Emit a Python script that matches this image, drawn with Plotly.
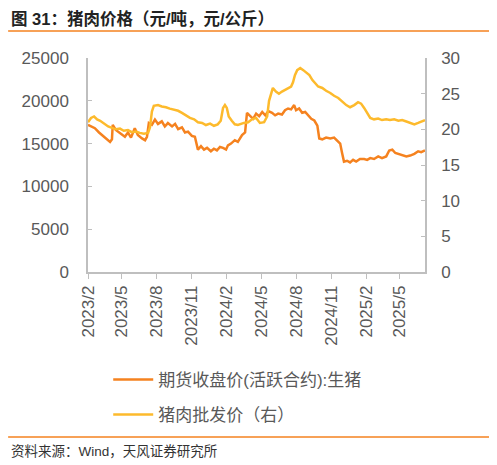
import plotly.graph_objects as go

# 期货收盘价(活跃合约):生猪, 元/吨
fut_dates = ['2023-02-01', '2023-02-11', '2023-02-19', '2023-03-02', '2023-03-10', '2023-03-21',
             '2023-03-31', '2023-04-05', '2023-04-07', '2023-04-15', '2023-04-21', '2023-04-29',
             '2023-05-09', '2023-05-17', '2023-05-25', '2023-06-04', '2023-06-12', '2023-06-23',
             '2023-07-01', '2023-07-06', '2023-07-11', '2023-07-19', '2023-07-27', '2023-08-04',
             '2023-08-14', '2023-08-22', '2023-08-30', '2023-09-10', '2023-09-18', '2023-09-26',
             '2023-10-06', '2023-10-14', '2023-10-22', '2023-11-01', '2023-11-09', '2023-11-17',
             '2023-11-25', '2023-12-03', '2023-12-11', '2023-12-21', '2023-12-29', '2024-01-06',
             '2024-01-14', '2024-01-22', '2024-01-30', '2024-02-04', '2024-02-12', '2024-02-22',
             '2024-03-01', '2024-03-12', '2024-03-20', '2024-03-25', '2024-04-02', '2024-04-10',
             '2024-04-18', '2024-04-26', '2024-05-04', '2024-05-12', '2024-05-20', '2024-05-30',
             '2024-06-07', '2024-06-15', '2024-06-25', '2024-07-03', '2024-07-11', '2024-07-19',
             '2024-07-27', '2024-08-01', '2024-08-09', '2024-08-17', '2024-08-25', '2024-09-02',
             '2024-09-10', '2024-09-18', '2024-09-26', '2024-10-01', '2024-10-09', '2024-10-19',
             '2024-10-30', '2024-11-09', '2024-11-17', '2024-11-25', '2024-11-30', '2024-12-05',
             '2024-12-13', '2024-12-21', '2024-12-29', '2025-01-06', '2025-01-16', '2025-01-27',
             '2025-02-04', '2025-02-12', '2025-02-22', '2025-03-05', '2025-03-15', '2025-03-26',
             '2025-04-03', '2025-04-11', '2025-04-19', '2025-04-27', '2025-05-07', '2025-05-18',
             '2025-05-28', '2025-06-08', '2025-06-18', '2025-06-26', '2025-07-06']
fut_price = [17200, 17000, 16800, 16300, 16000, 15600,
             15200, 15500, 17200, 16600, 16400, 16200,
             15800, 16300, 15700, 16800, 16000, 15600,
             15400, 15800, 17400, 17200, 17800, 17300,
             17600, 17000, 17400, 17000, 17300, 16700,
             16900, 16300, 16400, 15900, 15800, 14300,
             14700, 14300, 14500, 14100, 14400, 14200,
             14600, 14500, 14300, 14800, 15000, 15400,
             15200, 16000, 16300, 18600, 18300, 17900,
             18500, 18200, 18700, 18300, 18800, 18600,
             18300, 18500, 18400, 18900, 19100, 19000,
             19500, 18900, 19100, 18600, 18700, 18300,
             17900, 17700, 17100, 15600, 15500, 15700,
             15600, 15700, 15400, 15000, 13900, 12900,
             13000, 12800, 13100, 12900, 13200, 13200,
             13100, 13300, 13200, 13500, 13300, 13500,
             14200, 14300, 13900, 13800, 13700, 13500,
             13600, 13800, 14100, 14000, 14200]

# 猪肉批发价（右）, 元/公斤
pork_dates = ['2023-02-01', '2023-02-09', '2023-02-17', '2023-02-25', '2023-03-05', '2023-03-15',
              '2023-03-26', '2023-04-05', '2023-04-15', '2023-04-26', '2023-05-06', '2023-05-17',
              '2023-05-27', '2023-06-07', '2023-06-17', '2023-06-28', '2023-07-09', '2023-07-14',
              '2023-07-19', '2023-07-24', '2023-08-04', '2023-08-14', '2023-08-25', '2023-09-04',
              '2023-09-15', '2023-09-26', '2023-10-06', '2023-10-16', '2023-10-27', '2023-11-07',
              '2023-11-17', '2023-11-28', '2023-12-08', '2023-12-19', '2023-12-29', '2024-01-08',
              '2024-01-16', '2024-01-22', '2024-01-27', '2024-02-01', '2024-02-06', '2024-02-14',
              '2024-02-22', '2024-03-01', '2024-03-09', '2024-03-17', '2024-03-28', '2024-04-07',
              '2024-04-18', '2024-04-28', '2024-05-09', '2024-05-17', '2024-05-22', '2024-05-27',
              '2024-06-01', '2024-06-09', '2024-06-17', '2024-06-25', '2024-07-03', '2024-07-11',
              '2024-07-19', '2024-07-24', '2024-07-29', '2024-08-04', '2024-08-12', '2024-08-20',
              '2024-08-28', '2024-09-05', '2024-09-13', '2024-09-21', '2024-09-28', '2024-10-09',
              '2024-10-19', '2024-10-30', '2024-11-09', '2024-11-20', '2024-11-30', '2024-12-11',
              '2024-12-21', '2025-01-01', '2025-01-11', '2025-01-19', '2025-01-27', '2025-02-04',
              '2025-02-12', '2025-02-22', '2025-03-05', '2025-03-15', '2025-03-26', '2025-04-05',
              '2025-04-16', '2025-04-27', '2025-05-07', '2025-05-18', '2025-05-28', '2025-06-08',
              '2025-06-18', '2025-06-29', '2025-07-06']
pork_price = [21.0, 21.6, 21.8, 21.4, 21.2, 20.8,
              20.4, 20.2, 20.0, 20.1, 19.8, 19.9,
              19.6, 19.7, 19.5, 19.4, 19.5, 20.3,
              22.5, 23.3, 23.4, 23.2, 23.1, 22.9,
              22.8, 22.6, 22.3, 22.0, 21.6, 21.4,
              21.0, 20.9, 20.6, 20.8, 20.5, 20.7,
              21.2, 23.0, 23.4, 23.0, 21.8, 21.2,
              20.7, 20.6, 20.8, 20.9, 21.0, 21.4,
              21.6, 20.9, 21.0, 21.8, 24.0, 25.1,
              25.8, 25.3, 25.0, 25.3, 25.5, 25.8,
              26.0, 26.6, 27.6, 28.3, 28.6, 28.3,
              28.0, 27.6, 26.9, 26.4, 26.0, 25.8,
              25.4, 25.1, 24.7, 24.4, 23.9, 23.4,
              23.1, 23.4, 23.8, 23.6, 23.0, 22.2,
              21.6, 21.4, 21.5, 21.3, 21.4, 21.3,
              21.4, 21.2, 21.3, 21.1, 20.9, 20.7,
              20.9, 21.2, 21.3]

tick_dates = ['2023-02-01', '2023-05-01', '2023-08-01', '2023-11-01', '2024-02-01',
              '2024-05-01', '2024-08-01', '2024-11-01', '2025-02-01', '2025-05-01']
tick_labels = ['2023/2', '2023/5', '2023/8', '2023/11', '2024/2',
               '2024/5', '2024/8', '2024/11', '2025/2', '2025/5']

orange = '#F5821F'
yellow = '#FDBA2C'
grey_txt = '#595959'
grey_ax = '#BFBFBF'
font_main = 'Liberation Sans, Arial, Noto Sans CJK SC'

fig = go.Figure()
fig.add_trace(go.Scatter(x=fut_dates, y=fut_price, name='期货收盘价(活跃合约):生猪',
                         mode='lines', line=dict(color=orange, width=2.5),
                         legendgroup='a'))
fig.add_trace(go.Scatter(x=pork_dates, y=pork_price, name='猪肉批发价（右）',
                         mode='lines', line=dict(color=yellow, width=2.5),
                         yaxis='y2', legendgroup='b'))

# page has an 8px body margin, so the figure is 8px smaller than the window
fig.update_layout(
    width=489, height=457,
    margin=dict(l=80, r=72, t=50, b=193),
    paper_bgcolor='white', plot_bgcolor='white',
    font=dict(family=font_main, color=grey_txt, size=17),
    xaxis=dict(type='date', range=['2023-02-01', '2025-07-06'],
               tickvals=tick_dates, ticktext=tick_labels, tickangle=-90,
               showgrid=False, zeroline=False, showline=True, linecolor=grey_ax, linewidth=1.5,
               ticks='outside', ticklen=5, tickcolor=grey_ax, tickfont=dict(size=17)),
    yaxis=dict(range=[0, 25000], dtick=5000, tickformat='d', showgrid=False, zeroline=False,
               showline=True, linecolor=grey_ax, linewidth=1.5, ticklabelstandoff=14,
               ticks='inside', ticklen=4, tickcolor=grey_ax, tickfont=dict(size=17)),
    yaxis2=dict(range=[0, 30], dtick=5, overlaying='y', side='right', showgrid=False,
                zeroline=False, showline=True, linecolor=grey_ax, linewidth=1.5,
                ticklabelstandoff=11,
                ticks='inside', ticklen=4, tickcolor=grey_ax, tickfont=dict(size=17)),
    showlegend=True,
    legend=dict(x=0.06, y=-0.42, xanchor='left', yanchor='top', orientation='v',
                font=dict(size=17, color=grey_txt), itemwidth=40, tracegroupgap=10,
                bgcolor='rgba(0,0,0,0)'),
)

# title, rules and source line
fig.add_annotation(text='<b>图 31：猪肉价格（元/吨，元/公斤）</b>', xref='paper', yref='paper',
                   x=-0.235, y=1.232, xanchor='left', yanchor='top', showarrow=False,
                   font=dict(size=16.5, color='#222222', family=font_main))
fig.add_shape(type='line', xref='paper', yref='paper', x0=-0.237, x1=1.199, y0=1.126, y1=1.126,
              line=dict(color=orange, width=1.5))
fig.add_shape(type='line', xref='paper', yref='paper', x0=-0.237, x1=1.199, y0=-0.771, y1=-0.771,
              line=dict(color=orange, width=1.5))
fig.add_annotation(text='资料来源：Wind，天风证券研究所', xref='paper', yref='paper',
                   x=-0.235, y=-0.841, xanchor='left', yanchor='middle', showarrow=False,
                   font=dict(size=13.5, color='#333333', family=font_main))

fig.write_html('out.html')
